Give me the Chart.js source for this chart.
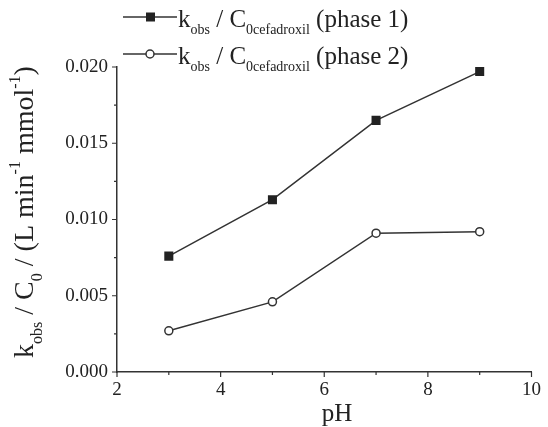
<!DOCTYPE html>
<html>
<head>
<meta charset="utf-8">
<script src="https://cdn.jsdelivr.net/npm/chart.js@4.4.1/dist/chart.umd.min.js"></script>
<style>
  html, body { margin: 0; padding: 0; background: #fff; }
  #wrap { width: 548px; height: 427px; position: relative; }
</style>
</head>
<body>
<div id="wrap"><canvas id="chart"></canvas></div>
<script>
const phValues = [3, 5, 7, 9];
const phase1 = [0.0076, 0.0113, 0.0165, 0.0197];
const phase2 = [0.0027, 0.0046, 0.0091, 0.0092];
const xTicks = [2, 4, 6, 8, 10];
const xMinorTicks = [3, 5, 7, 9];
const yTicks = [0, 0.005, 0.010, 0.015, 0.020];
const yMinorTicks = [0.0025, 0.0075, 0.0125, 0.0175];
const legendLabels = ['(phase 1)', '(phase 2)'];

const serif = '"Liberation Serif", "DejaVu Serif", serif';
const ink = '#333';

// draws a run of [text, size, shift] pieces starting at x on baseline y
function drawRun(ctx, parts, x, y) {
  parts.forEach(p => {
    ctx.font = p[1] + 'px ' + serif;
    ctx.fillText(p[0], x, y + p[2]);
    x += ctx.measureText(p[0]).width;
  });
  return x;
}
function runWidth(ctx, parts) {
  let w = 0;
  parts.forEach(p => {
    ctx.font = p[1] + 'px ' + serif;
    w += ctx.measureText(p[0]).width;
  });
  return w;
}

const decorPlugin = {
  id: 'decor',
  afterDraw(chart) {
    const ctx = chart.ctx;
    const xs = chart.scales.x;
    const ys = chart.scales.y;
    ctx.save();
    ctx.strokeStyle = ink;
    ctx.lineWidth = 1.2;
    // ticks, outward
    ctx.beginPath();
    xTicks.forEach(v => { const px = xs.getPixelForValue(v); ctx.moveTo(px, ys.bottom); ctx.lineTo(px, ys.bottom + 5); });
    xMinorTicks.forEach(v => { const px = xs.getPixelForValue(v); ctx.moveTo(px, ys.bottom); ctx.lineTo(px, ys.bottom + 3); });
    yTicks.forEach(v => { const py = ys.getPixelForValue(v); ctx.moveTo(xs.left, py); ctx.lineTo(xs.left - 5, py); });
    yMinorTicks.forEach(v => { const py = ys.getPixelForValue(v); ctx.moveTo(xs.left, py); ctx.lineTo(xs.left - 3, py); });
    ctx.stroke();

    ctx.fillStyle = '#222';
    ctx.textBaseline = 'alphabetic';
    ctx.textAlign = 'left';

    // x title
    ctx.font = '25px ' + serif;
    ctx.textAlign = 'center';
    ctx.fillText('pH', 337, 421);
    ctx.textAlign = 'left';

    // y title, rotated
    const yParts = [
      ['k', 28, 0], ['obs', 16, 9], [' / C', 28, 0], ['0', 16, 9],
      [' / (L min', 28, 0], ['-1', 16, -13], [' mmol', 28, 0], ['-1', 16, -13], [')', 28, 0]
    ];
    const tw = runWidth(ctx, yParts);
    ctx.save();
    ctx.translate(33, 212);
    ctx.rotate(-Math.PI / 2);
    drawRun(ctx, yParts, -tw / 2, 0);
    ctx.restore();

    // legend
    chart.data.datasets.forEach((ds, i) => {
      const ly = 17 + i * 37;
      ctx.strokeStyle = ink;
      ctx.lineWidth = 1.5;
      ctx.beginPath();
      ctx.moveTo(123, ly);
      ctx.lineTo(177, ly);
      ctx.stroke();
      if (ds.pointStyle === 'rect') {
        ctx.fillStyle = '#222';
        ctx.fillRect(146, ly - 4.5, 9, 9);
      } else {
        ctx.fillStyle = '#fff';
        ctx.beginPath();
        ctx.arc(150, ly, 4, 0, Math.PI * 2);
        ctx.fill();
        ctx.stroke();
      }
      ctx.fillStyle = '#222';
      drawRun(ctx, [
        ['k', 25, 0], ['obs', 14, 7], [' / C', 25, 0], ['0cefadroxil', 14, 7], [' ' + legendLabels[i], 25, 0]
      ], 178, ly + 10);
    });
    ctx.restore();
  }
};

new Chart(document.getElementById('chart'), {
  type: 'line',
  data: {
    datasets: [
      {
        label: 'kobs / C0cefadroxil ' + legendLabels[0],
        data: phValues.map((x, i) => ({ x: x, y: phase1[i] })),
        borderColor: ink,
        borderWidth: 1.5,
        pointStyle: 'rect',
        pointRadius: 6.4,
        pointBackgroundColor: '#222',
        pointBorderColor: '#222',
        pointBorderWidth: 0,
        tension: 0
      },
      {
        label: 'kobs / C0cefadroxil ' + legendLabels[1],
        data: phValues.map((x, i) => ({ x: x, y: phase2[i] })),
        borderColor: ink,
        borderWidth: 1.5,
        pointStyle: 'circle',
        pointRadius: 4,
        pointBackgroundColor: '#fff',
        pointBorderColor: ink,
        pointBorderWidth: 1.5,
        tension: 0
      }
    ]
  },
  options: {
    responsive: true,
    maintainAspectRatio: false,
    animation: false,
    layout: { padding: { top: 67, right: 16, left: 0, bottom: 0 } },
    plugins: { legend: { display: false }, tooltip: { enabled: false } },
    scales: {
      x: {
        type: 'linear',
        min: 2,
        max: 10,
        afterFit: s => { s.height = 55; },
        afterBuildTicks: s => { s.ticks = xTicks.map(v => ({ value: v })); },
        ticks: { font: { family: serif, size: 19 }, color: '#222', padding: 7 },
        grid: { display: false, drawTicks: false },
        border: { display: true, color: ink, width: 1.5 }
      },
      y: {
        min: 0,
        max: 0.02,
        afterFit: s => { s.width = 117; },
        afterBuildTicks: s => { s.ticks = yTicks.map(v => ({ value: v })); },
        ticks: { font: { family: serif, size: 19 }, color: '#222', padding: 9, callback: v => v.toFixed(3) },
        grid: { display: false, drawTicks: false },
        border: { display: true, color: ink, width: 1.5 }
      }
    }
  },
  plugins: [decorPlugin]
});
</script>
</body>
</html>
